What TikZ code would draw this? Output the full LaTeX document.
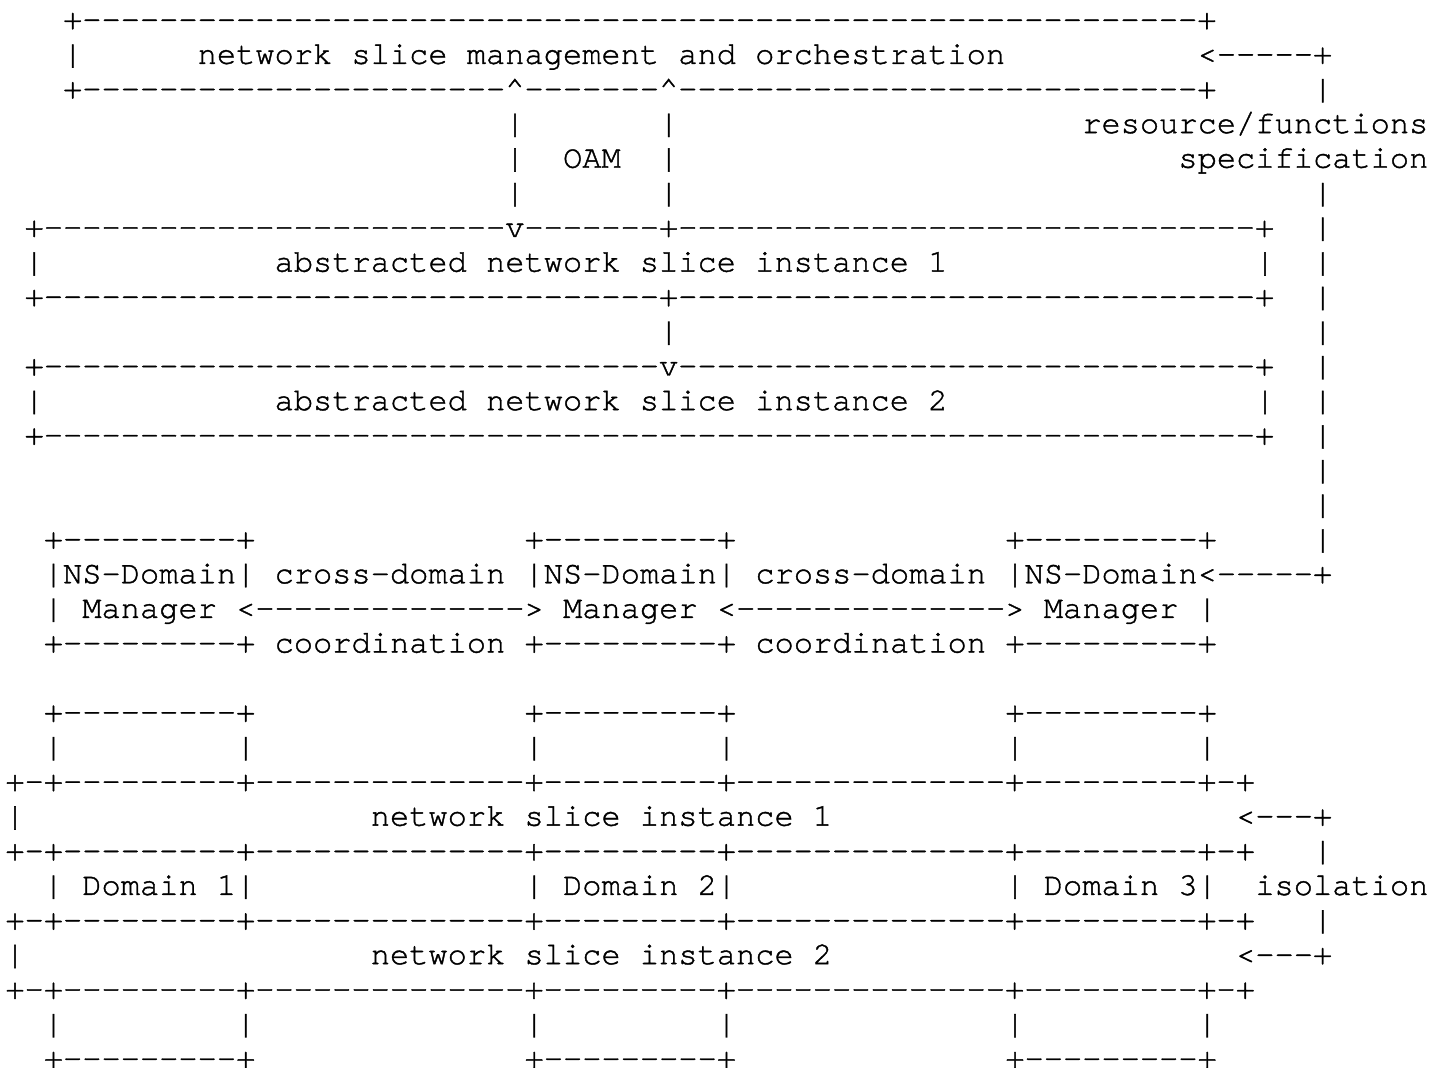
\documentclass[tikz,border=0pt]{standalone}
\usepackage{fontspec}
\setmonofont{TeX Gyre Cursor}[Ligatures={NoCommon,NoRequired}, FakeBold=1.2]
\ExplSyntaxOn
\cs_new:Npn \dashrun #1 { \prg_replicate:nn {#1} {-} }
\ExplSyntaxOff
\newcommand\sepline{+-+\dashrun{9}+\dashrun{14}+\dashrun{9}+\dashrun{14}+\dashrun{9}+-+}
\newcommand\smallbox{+\dashrun{9}+}
\tikzset{txt/.style={anchor=base west, inner sep=0pt, outer sep=0pt,
  font=\fontsize{16.02pt}{17pt}\selectfont\ttfamily}}
\newcommand\asc[4]{\node[txt] (#1) at ({2.7pt+#2*9.615pt},{-14.6pt-(#3-1)*17.315pt}) {#4};}
\begin{document}
\begin{tikzpicture}
\useasboundingbox (0,0) rectangle (717.5pt,-534pt);
% row 1-3: management box
\asc{m1}{3}{1}{+\dashrun{58}+}
\asc{m2}{3}{2}{|}
\asc{mtext}{10}{2}{network slice management and orchestration}
\asc{rsarrow}{62}{2}{<\dashrun{5}+}
\asc{m3}{3}{3}{+\dashrun{22}\textasciicircum\dashrun{7}\textasciicircum\dashrun{27}+}
\asc{v3}{68}{3}{|}
% OAM
\asc{oa4}{26}{4}{|}
\asc{ob4}{34}{4}{|}
\asc{rs1}{56}{4}{resource/functions}
\asc{oa5}{26}{5}{|}
\asc{oam}{29}{5}{OAM}
\asc{ob5}{34}{5}{|}
\asc{rs2}{61}{5}{speci{}fication}
\asc{oa6}{26}{6}{|}
\asc{ob6}{34}{6}{|}
\asc{v6}{68}{6}{|}
% abstracted instance 1
\asc{a7}{1}{7}{+\dashrun{24}v\dashrun{7}+\dashrun{30}+}
\asc{v7}{68}{7}{|}
\asc{a8l}{1}{8}{|}
\asc{a8t}{14}{8}{abstracted network slice instance 1}
\asc{a8r}{65}{8}{|}
\asc{v8}{68}{8}{|}
\asc{a9}{1}{9}{+\dashrun{32}+\dashrun{30}+}
\asc{v9}{68}{9}{|}
\asc{c10}{34}{10}{|}
\asc{v10}{68}{10}{|}
% abstracted instance 2
\asc{b11}{1}{11}{+\dashrun{32}v\dashrun{30}+}
\asc{v11}{68}{11}{|}
\asc{b12l}{1}{12}{|}
\asc{b12t}{14}{12}{abstracted network slice instance 2}
\asc{b12r}{65}{12}{|}
\asc{v12}{68}{12}{|}
\asc{b13}{1}{13}{+\dashrun{63}+}
\asc{v13}{68}{13}{|}
\asc{v14}{68}{14}{|}
\asc{v15}{68}{15}{|}
% NS-Domain managers
\asc{d16a}{2}{16}{\smallbox}
\asc{d16b}{27}{16}{\smallbox}
\asc{d16c}{52}{16}{\smallbox}
\asc{v16}{68}{16}{|}
\asc{d17a}{2}{17}{|NS-Domain|}
\asc{cd1}{14}{17}{cross-domain}
\asc{d17b}{27}{17}{|NS-Domain|}
\asc{cd2}{39}{17}{cross-domain}
\asc{d17c}{52}{17}{|NS-Domain<\dashrun{5}+}
\asc{d18a}{2}{18}{|}
\asc{mg1}{4}{18}{Manager}
\asc{ar1}{12}{18}{<\dashrun{14}>}
\asc{mg2}{29}{18}{Manager}
\asc{ar2}{37}{18}{<\dashrun{14}>}
\asc{mg3}{54}{18}{Manager}
\asc{d18c}{62}{18}{|}
\asc{d19a}{2}{19}{\smallbox}
\asc{co1}{14}{19}{coordination}
\asc{d19b}{27}{19}{\smallbox}
\asc{co2}{39}{19}{coordination}
\asc{d19c}{52}{19}{\smallbox}
% domains and slice instances
\asc{e21a}{2}{21}{\smallbox}
\asc{e21b}{27}{21}{\smallbox}
\asc{e21c}{52}{21}{\smallbox}
\asc{e22a}{2}{22}{|}
\asc{e22b}{12}{22}{|}
\asc{e22c}{27}{22}{|}
\asc{e22d}{37}{22}{|}
\asc{e22e}{52}{22}{|}
\asc{e22f}{62}{22}{|}
\asc{s23}{0}{23}{\sepline}
\asc{s24l}{0}{24}{|}
\asc{s24t}{19}{24}{network slice instance 1}
\asc{is1}{64}{24}{<\dashrun{3}+}
\asc{s25}{0}{25}{\sepline}
\asc{v25}{68}{25}{|}
\asc{dm1}{2}{26}{| Domain 1|}
\asc{dm2}{27}{26}{| Domain 2|}
\asc{dm3}{52}{26}{| Domain 3|}
\asc{iso}{65}{26}{isolation}
\asc{s27}{0}{27}{\sepline}
\asc{v27}{68}{27}{|}
\asc{s28l}{0}{28}{|}
\asc{s28t}{19}{28}{network slice instance 2}
\asc{is2}{64}{28}{<\dashrun{3}+}
\asc{s29}{0}{29}{\sepline}
\asc{f30a}{2}{30}{|}
\asc{f30b}{12}{30}{|}
\asc{f30c}{27}{30}{|}
\asc{f30d}{37}{30}{|}
\asc{f30e}{52}{30}{|}
\asc{f30f}{62}{30}{|}
\asc{f31a}{2}{31}{\smallbox}
\asc{f31b}{27}{31}{\smallbox}
\asc{f31c}{52}{31}{\smallbox}
\end{tikzpicture}
\end{document}
